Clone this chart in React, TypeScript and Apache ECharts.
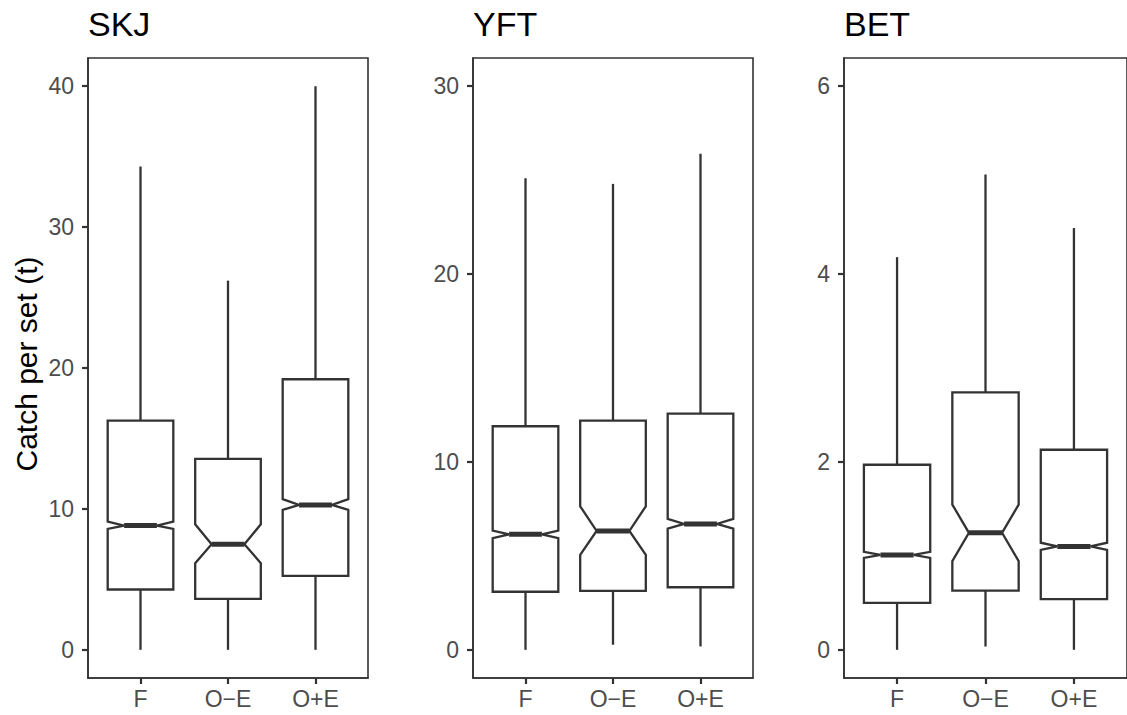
import React, { useEffect, useRef } from "react";
import * as echarts from "echarts";

const categories = ["F", "O\u2212E", "O+E"];
const panelTitles = ["SKJ", "YFT", "BET"];
const yAxisTitle = "Catch per set (t)";

// SKJ
const skjWhiskerLow = [0, 0, 0];
const skjQ1 = [4.28, 3.62, 5.25];
const skjNotchLow = [8.58, 6.15, 9.93];
const skjMedian = [8.82, 7.49, 10.28];
const skjNotchHigh = [9.1, 8.91, 10.69];
const skjQ3 = [16.26, 13.55, 19.2];
const skjWhiskerHigh = [34.3, 26.2, 40.0];

// YFT
const yftWhiskerLow = [0, 0.27, 0.18];
const yftQ1 = [3.09, 3.14, 3.33];
const yftNotchLow = [5.94, 5.05, 6.45];
const yftMedian = [6.15, 6.33, 6.7];
const yftNotchHigh = [6.35, 7.64, 6.97];
const yftQ3 = [11.9, 12.2, 12.57];
const yftWhiskerHigh = [25.1, 24.8, 26.4];

// BET
const betWhiskerLow = [0, 0.035, 0];
const betQ1 = [0.5, 0.63, 0.54];
const betNotchLow = [0.979, 0.944, 1.064];
const betMedian = [1.01, 1.245, 1.1];
const betNotchHigh = [1.043, 1.546, 1.14];
const betQ3 = [1.97, 2.74, 2.13];
const betWhiskerHigh = [4.18, 5.06, 4.49];

const skjTicks = [0, 10, 20, 30, 40];
const yftTicks = [0, 10, 20, 30];
const betTicks = [0, 2, 4, 6];

const FONT = "'Liberation Sans', Arial, Helvetica, sans-serif";
const LINE = "#333333";
const TICK_TEXT = "#4D4D4D";

function buildRows(wl: number[], q1: number[], nl: number[], md: number[], nh: number[], q3: number[], wh: number[]) {
  return categories.map((_, i) => [i + 1, wl[i], q1[i], nl[i], md[i], nh[i], q3[i], wh[i]]);
}

const panels = [
  { rows: buildRows(skjWhiskerLow, skjQ1, skjNotchLow, skjMedian, skjNotchHigh, skjQ3, skjWhiskerHigh), ticks: skjTicks, min: -2, max: 42 },
  { rows: buildRows(yftWhiskerLow, yftQ1, yftNotchLow, yftMedian, yftNotchHigh, yftQ3, yftWhiskerHigh), ticks: yftTicks, min: -1.5, max: 31.5 },
  { rows: buildRows(betWhiskerLow, betQ1, betNotchLow, betMedian, betNotchHigh, betQ3, betWhiskerHigh), ticks: betTicks, min: -0.3, max: 6.3 },
];

const gridLayout = [
  { left: 88, width: 280 },
  { left: 473, width: 280 },
  { left: 844, width: 294 },
];

function renderNotchedBox(params: any, api: any) {
  const x = api.value(0);
  const unit = api.size([1, 0])[0];
  const half = (unit * 0.75) / 2;
  const cx = api.coord([x, 0])[0];
  const Y = (i: number) => api.coord([x, api.value(i)])[1];
  const yWl = Y(1), yQ1 = Y(2), yNl = Y(3), yMd = Y(4), yNh = Y(5), yQ3 = Y(6), yWh = Y(7);
  const xl = cx - half, xr = cx + half, nl = cx - half / 2, nr = cx + half / 2;
  const stroke = { stroke: LINE, lineWidth: 2.3, fill: "none" };
  return {
    type: "group",
    children: [
      { type: "line", shape: { x1: cx, y1: yQ3, x2: cx, y2: yWh }, style: stroke },
      { type: "line", shape: { x1: cx, y1: yQ1, x2: cx, y2: yWl }, style: stroke },
      {
        type: "polygon",
        shape: {
          points: [
            [xl, yQ3], [xl, yNh], [nl, yMd], [xl, yNl], [xl, yQ1],
            [xr, yQ1], [xr, yNl], [nr, yMd], [xr, yNh], [xr, yQ3],
          ],
        },
        style: { stroke: LINE, lineWidth: 2.3, fill: "#ffffff", lineJoin: "miter" },
      },
      { type: "line", shape: { x1: nl, y1: yMd, x2: nr, y2: yMd }, style: { stroke: LINE, lineWidth: 5 } },
    ],
  };
}

export default function App() {
  const ref = useRef<HTMLDivElement>(null);
  useEffect(() => {
    if (!ref.current) return;
    const chart = echarts.init(ref.current, undefined, { renderer: "svg" });
    const option: any = {
      animation: false,
      backgroundColor: "#ffffff",
      grid: gridLayout.map((g) => ({
        left: g.left,
        width: g.width,
        top: 58,
        height: 620,
        show: true,
        borderColor: LINE,
        borderWidth: 1.6,
        backgroundColor: "transparent",
        containLabel: false,
      })),
      xAxis: panels.map((_, i) => ({
        type: "value",
        gridIndex: i,
        min: 0.4,
        max: 3.6,
        axisLine: { show: true, onZero: false, lineStyle: { color: LINE, width: 1.6 } },
        axisTick: { show: true, customValues: [1, 2, 3], length: 6, lineStyle: { color: LINE, width: 2.2 } },
        axisLabel: {
          show: true,
          customValues: [1, 2, 3],
          formatter: (v: number) => categories[Math.round(v) - 1] ?? "",
          fontSize: 23,
          fontFamily: FONT,
          color: TICK_TEXT,
          margin: 9,
        },
        splitLine: { show: false },
      })),
      yAxis: panels.map((p, i) => ({
        type: "value",
        gridIndex: i,
        min: p.min,
        max: p.max,
        axisLine: { show: true, onZero: false, lineStyle: { color: LINE, width: 1.6 } },
        axisTick: { show: true, customValues: p.ticks, length: 6, lineStyle: { color: LINE, width: 2.2 } },
        axisLabel: {
          show: true,
          customValues: p.ticks,
          fontSize: 23,
          fontFamily: FONT,
          color: TICK_TEXT,
          margin: 14,
        },
        splitLine: { show: false },
      })),
      series: panels.map((p, i) => ({
        type: "custom",
        xAxisIndex: i,
        yAxisIndex: i,
        data: p.rows,
        encode: { x: 0, y: [1, 2, 3, 4, 5, 6, 7] },
        renderItem: renderNotchedBox,
        clip: false,
      })),
      graphic: [
        ...panelTitles.map((t, i) => ({
          type: "text",
          x: gridLayout[i].left,
          y: 24,
          style: { text: t, font: `34px ${FONT}`, fill: "#000000", align: "left", verticalAlign: "middle" },
        })),
        {
          type: "text",
          x: 26,
          y: 364,
          rotation: Math.PI / 2,
          style: { text: yAxisTitle, font: `30px ${FONT}`, fill: "#000000", align: "center", verticalAlign: "middle" },
        },
      ],
    };
    chart.setOption(option);
    return () => chart.dispose();
  }, []);
  return <div ref={ref} style={{ position: "fixed", left: 0, top: 0, width: 1127, height: 715, background: "#fff" }} />;
}
